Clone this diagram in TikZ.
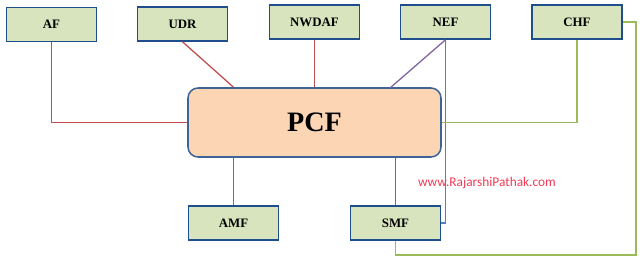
\documentclass[tikz,border=0pt]{standalone}
\usepackage{fontspec}
\setmainfont{Liberation Serif}
\newfontfamily\webfont{Carlito}
\usepackage{tikz}
\usepackage{xcolor}
\usetikzlibrary{positioning}

\definecolor{nffill}{HTML}{D7E4BD}
\definecolor{nfborder}{HTML}{1F4E8C}
\definecolor{pcffill}{HTML}{FCD5B5}
\definecolor{pcfborder}{HTML}{3E6496}
\definecolor{linkred}{HTML}{C0504D}
\definecolor{linkpurple}{HTML}{8064A2}
\definecolor{linkblue}{HTML}{4F81BD}
\definecolor{linkgreen}{HTML}{9BBB59}
\definecolor{webred}{HTML}{F03A55}

\begin{document}
\begin{tikzpicture}[
        x=0.03cm, y=-0.03cm,
        nf/.style={rectangle, fill=nffill, draw=nfborder, line width=1.3pt, minimum width=2.7cm, minimum height=1.02cm, font=\fontsize{11}{13}\selectfont\bfseries},
        pcfbox/.style={rectangle, rounded corners=0.3cm, fill=pcffill, draw=pcfborder, line width=1.3pt, minimum width=7.59cm, minimum height=2.07cm, font=\fontsize{24}{28}\selectfont\bfseries},
        redlink/.style={draw=linkred, line width=1.1pt},
        purplelink/.style={draw=linkpurple, line width=1.1pt},
        bluelink/.style={draw=linkblue, line width=1.3pt},
        greenlink/.style={draw=linkgreen, line width=1.3pt}
    ]
        \useasboundingbox (0,0) rectangle (640,262);

        % Network functions
        \node[pcfbox] (pcf) at (314.5,122.5) {PCF};
        \node[nf] (af) at (51.5,24.5) {AF};
        \node[nf] (udr) at (182.5,24) {UDR};
        \node[nf] (nwdaf) at (314.5,22) {NWDAF};
        \node[nf] (nef) at (445.5,22) {NEF};
        \node[nf] (chf) at (577,22) {CHF};
        \node[nf] (amf) at (233.5,223) {AMF};
        \node[nf] (smf) at (395.5,223) {SMF};

        % Helper points
        \coordinate (nefhit) at (390,88);
        \coordinate (chfloop) at (636,255);

        % Links
        \draw[redlink] (af.south) |- (pcf.west);
        \draw[redlink] (udr.south) -- (amf |- pcf.north);
        \draw[redlink] (nwdaf.south) -- (pcf.north);
        \draw[purplelink] (nef.south) -- (nefhit);
        \draw[bluelink] (nef.south) |- (smf.east);
        \draw[greenlink] (chf.south) |- (pcf.east);
        \draw[greenlink] (chf.east) -| (chfloop) -| (smf.south);
        \draw[redlink] (pcf.south -| amf) -- (amf.north);
        \draw[redlink] (pcf.south -| smf) -- (smf.north);

        % Watermark
        \node[text=webred, font=\webfont\fontsize{11.4}{13}\selectfont] (web) at (487,183) {www.RajarshiPathak.com};
    \end{tikzpicture}
\end{document}
